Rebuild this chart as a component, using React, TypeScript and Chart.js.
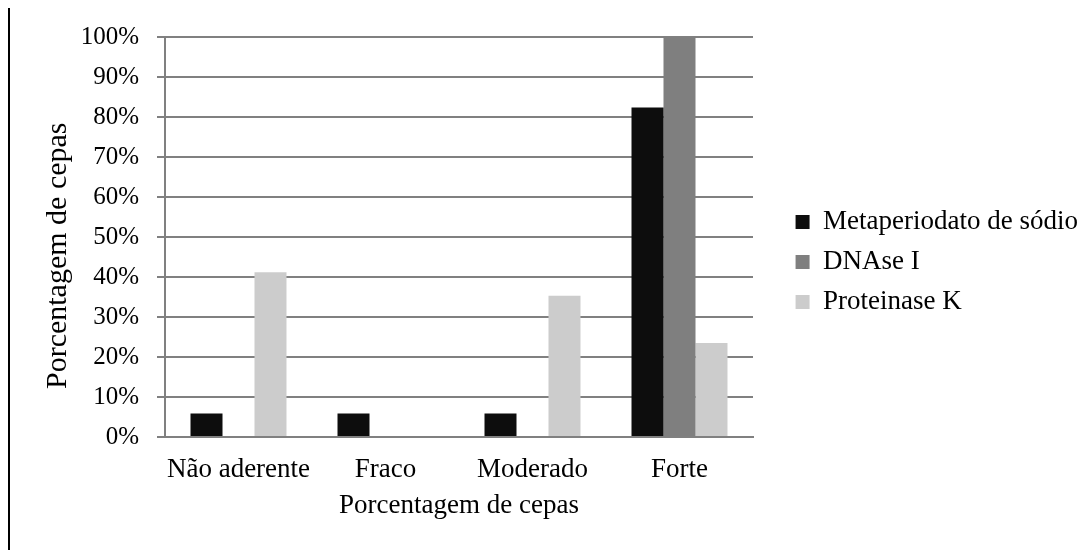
import { useEffect, useRef } from 'react';
import { Chart, registerables } from 'chart.js';

Chart.register(...registerables);

const categories = ['Não aderente', 'Fraco', 'Moderado', 'Forte'];
const seriesNames = ['Metaperiodato de sódio', 'DNAse I', 'Proteinase K'];
const metaperiodato = [5.9, 5.9, 5.9, 82.4];
const dnase = [0, 0, 0, 100];
const proteinase = [41.2, 0, 35.3, 23.5];
const seriesColors = ['#0d0d0d', '#7f7f7f', '#cccccc'];
const yMin = 0;
const yMax = 100;
const yStep = 10;
const yTitle = 'Porcentagem de cepas';
const xTitle = 'Porcentagem de cepas';

const FONT = "'Liberation Serif', 'Times New Roman', serif";
const GRID = '#808080';
const CANVAS_W = 1078;
const CANVAS_H = 542;
const PLOT_RIGHT = 743;

export default function App() {
  const ref = useRef<HTMLCanvasElement | null>(null);

  useEffect(() => {
    if (!ref.current) return;
    const values = [metaperiodato, dnase, proteinase];
    const chart = new Chart(ref.current, {
      type: 'bar',
      data: {
        labels: categories,
        datasets: seriesNames.map((name, i) => ({
          label: name,
          data: values[i],
          backgroundColor: seriesColors[i],
          borderWidth: 0,
          categoryPercentage: 0.653,
          barPercentage: 1,
        })),
      },
      options: {
        animation: false,
        responsive: false,
        maintainAspectRatio: false,
        color: '#000',
        font: { family: FONT, size: 27 },
        layout: { padding: { top: 29, left: 0, right: 0, bottom: 0 } },
        plugins: {
          tooltip: { enabled: false },
          legend: {
            position: 'right',
            align: 'start',
            maxWidth: 400,
            title: {
              display: true,
              text: ' ',
              font: { family: FONT, size: 10 },
              padding: { top: 146.5, bottom: 0 },
            },
            labels: {
              color: '#000',
              font: { family: FONT, size: 27 },
              boxWidth: 14,
              boxHeight: 14,
              padding: 13,
            },
          },
        },
        scales: {
          x: {
            grid: { display: false, drawTicks: false },
            border: { display: true, color: GRID, width: 2 },
            ticks: {
              color: '#000',
              font: { family: FONT, size: 27 },
              padding: 17,
              maxRotation: 0,
              autoSkip: false,
            },
            title: {
              display: true,
              text: xTitle,
              color: '#000',
              font: { family: FONT, size: 27 },
              padding: { top: 0, bottom: 28 },
            },
            afterFit: (s: any) => {
              s.height = 113;
            },
          },
          y: {
            min: yMin,
            max: yMax,
            grid: {
              color: GRID,
              lineWidth: 2,
              drawTicks: true,
              tickLength: 8,
              tickColor: GRID,
              tickWidth: 2,
            },
            border: { display: true, color: GRID, width: 2 },
            ticks: {
              stepSize: yStep,
              color: '#000',
              font: { family: FONT, size: 25 },
              padding: 18,
              callback: (v: any) => `${v}%`,
            },
            title: {
              display: true,
              text: yTitle + '\u00A0\u00A0\u00A0\u00A0\u00A0',
              color: '#000',
              font: { family: FONT, size: 30 },
              padding: { top: 30, bottom: 0 },
            },
            afterFit: (s: any) => {
              s.width = 155;
              s.paddingTop = 0;
              s.paddingBottom = 0;
            },
          },
          y2: {
            position: 'right',
            display: true,
            grid: { display: false, drawTicks: false },
            border: { display: false },
            ticks: { display: false },
            afterFit: (s: any) => {
              const lw = s.chart.legend ? s.chart.legend.width : 0;
              s.width = Math.max(0, CANVAS_W - lw - PLOT_RIGHT);
              s.paddingTop = 0;
              s.paddingBottom = 0;
            },
          },
        },
      },
    } as any);
    return () => chart.destroy();
  }, []);

  return (
    <div
      style={{
        position: 'fixed',
        left: 8,
        top: 8,
        width: 1077,
        height: CANVAS_H,
        borderLeft: '2px solid #000',
        boxSizing: 'border-box',
        background: '#fff',
      }}
    >
      <canvas ref={ref} width={CANVAS_W} height={CANVAS_H} style={{ display: 'block' }} />
    </div>
  );
}
